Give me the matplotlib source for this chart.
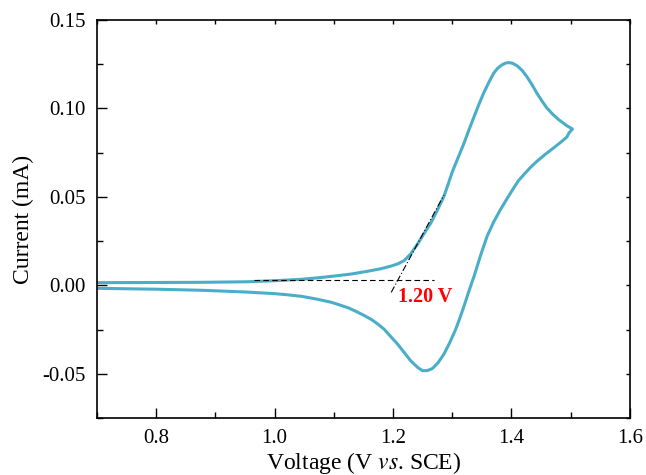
import matplotlib
matplotlib.use("Agg")
import matplotlib.pyplot as plt
from matplotlib.ticker import MultipleLocator, FormatStrFormatter

plt.rcParams['font.family'] = ['Liberation Serif', 'DejaVu Serif']
plt.rcParams['mathtext.fontset'] = 'stix'

# anodic sweep (0.7 V -> 1.5 V)
fwd_v = [0.700, 0.800, 0.877, 0.953, 1.000, 1.045, 1.075, 1.100, 1.130, 1.158,
         1.180, 1.197, 1.208, 1.219, 1.230, 1.241, 1.252, 1.264, 1.275, 1.286,
         1.293, 1.300, 1.310, 1.320, 1.328, 1.337, 1.345, 1.353, 1.362, 1.370,
         1.377, 1.384, 1.390, 1.3955, 1.402, 1.410, 1.418, 1.426, 1.435, 1.443,
         1.452, 1.460, 1.470, 1.480, 1.4936, 1.500, 1.503]
fwd_i = [0.0015, 0.0016, 0.0017, 0.0020, 0.0026, 0.0034, 0.0043, 0.0052, 0.0064, 0.0080,
         0.0094, 0.0109, 0.0121, 0.0140, 0.0178, 0.0231, 0.0290, 0.0353, 0.0425, 0.0503,
         0.0570, 0.0640, 0.0722, 0.0804, 0.0876, 0.0954, 0.1022, 0.1086, 0.1148, 0.1199,
         0.1228, 0.1246, 0.1256, 0.1259, 0.1255, 0.1240, 0.1215, 0.1180, 0.1133, 0.1086,
         0.1040, 0.1002, 0.0966, 0.0936, 0.0902, 0.0890, 0.0883]

# cathodic sweep (1.5 V -> 0.7 V)
rev_v = [1.503, 1.497, 1.4936, 1.483, 1.471, 1.457, 1.443, 1.432, 1.421, 1.412,
         1.404, 1.393, 1.3815, 1.370, 1.359, 1.348, 1.337, 1.328, 1.320, 1.313,
         1.306, 1.296, 1.286, 1.276, 1.2667, 1.258, 1.250, 1.242, 1.230, 1.219,
         1.208, 1.196, 1.185, 1.174, 1.163, 1.151, 1.138, 1.125, 1.110, 1.096,
         1.070, 1.045, 1.020, 1.000, 0.953, 0.900, 0.877, 0.800, 0.700]
rev_i = [0.0883, 0.0860, 0.0838, 0.0808, 0.0776, 0.0740, 0.0701, 0.0666, 0.0626, 0.0592,
         0.0551, 0.0492, 0.0428, 0.0358, 0.0278, 0.0170, 0.0052, -0.0035, -0.0117, -0.0185,
         -0.0248, -0.0323, -0.0389, -0.0438, -0.0470, -0.0482, -0.0483, -0.0465, -0.0427, -0.0380,
         -0.0333, -0.0289, -0.0248, -0.0218, -0.0192, -0.0170, -0.0148, -0.0128, -0.0111, -0.0096,
         -0.0077, -0.0062, -0.0053, -0.0047, -0.0038, -0.0031, -0.0028, -0.0022, -0.0017]

# onset construction
base_v = [0.966, 1.269]
base_i = [0.003, 0.003]
tan_v = [1.197, 1.286]
tan_i = [-0.0040, 0.0510]
onset_text = "1.20 V"

fig = plt.figure(figsize=(6.46, 4.75), dpi=100)
ax = fig.add_axes([0.150, 0.120, 0.825, 0.838])

ax.plot(fwd_v + rev_v[1:], fwd_i + rev_i[1:], color='#4aaec8', lw=2.2,
        solid_joinstyle='round')
ax.plot(base_v, base_i, color='black', lw=0.8, ls=(0, (5, 3)))
ax.plot(tan_v, tan_i, color='black', lw=0.8, ls=(0, (6, 2, 1, 2)))
ax.text(1.209, -0.0065, onset_text, color='red', fontsize=14.5, fontweight='bold',
        va='center', ha='left')

ax.set_xlim(0.7, 1.6)
ax.set_ylim(-0.075, 0.15)
ax.xaxis.set_major_locator(MultipleLocator(0.2))
ax.xaxis.set_minor_locator(MultipleLocator(0.1))
ax.yaxis.set_major_locator(MultipleLocator(0.05))
ax.yaxis.set_minor_locator(MultipleLocator(0.025))
ax.xaxis.set_major_formatter(FormatStrFormatter('%.1f'))
ax.yaxis.set_major_formatter(FormatStrFormatter('%.2f'))

ax.tick_params(which='major', direction='in', length=7, width=1, labelsize=15,
               bottom=True, left=True, pad=8)
ax.tick_params(which='minor', direction='in', length=4, width=1,
               bottom=True, left=True)
ax.tick_params(which='both', top=True, right=True)
ax.tick_params(axis='x', which='both', labeltop=False)
ax.tick_params(axis='y', which='both', labelright=False)
# short ticks on the mirrored top/right axes
for t in ax.xaxis.get_major_ticks() + ax.xaxis.get_minor_ticks():
    t.tick2line.set_markersize(3)
for t in ax.yaxis.get_major_ticks() + ax.yaxis.get_minor_ticks():
    t.tick2line.set_markersize(3)

for s in ax.spines.values():
    s.set_linewidth(1.2)

ax.set_xlabel('Voltage (V $\\mathit{vs}$. SCE)', fontsize=17, labelpad=1)
ax.set_ylabel('Current (mA)', fontsize=17, labelpad=6)

fig.savefig('out.png', dpi=100)
